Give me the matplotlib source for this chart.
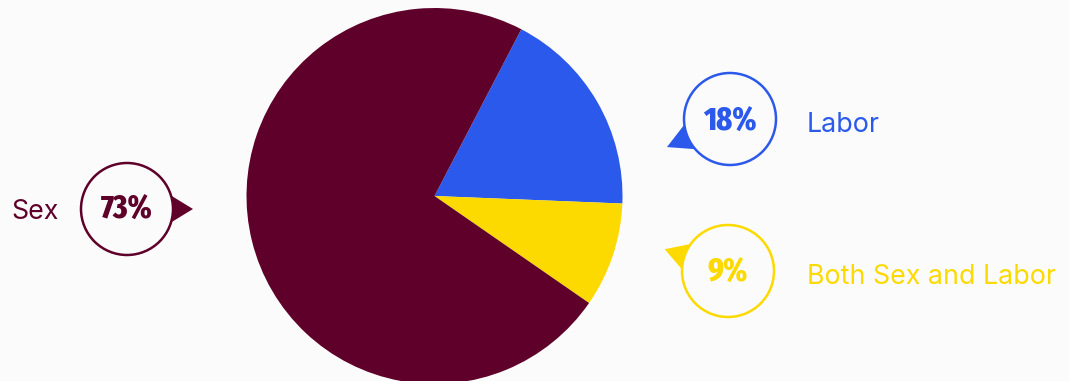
import numpy as np
import matplotlib.pyplot as plt
from matplotlib.patches import Circle, Polygon

labels = ['Labor', 'Both Sex and Labor', 'Sex']
shares = [18, 9, 73]
pct_labels = ['18%', '9%', '73%']
colors = ['#2b59eb', '#fcda00', '#5e0029']

W, H = 1069, 381
BG = '#fcfbfb'
PCT_FONT = ['Fira Sans Extra Condensed', 'DejaVu Sans']
LABEL_FONT = ['Inter', 'DejaVu Sans']


def bubble(ax, cx, cy, r, tip_angle, tip_dist, color, text, text_y, label, label_x, label_y):
    # speech-bubble style callout: triangle under a circle
    d = np.radians(17)
    a = np.radians(tip_angle)
    tri = [(cx + r * np.cos(a - d), cy + r * np.sin(a - d)),
           (cx + tip_dist * np.cos(a), cy + tip_dist * np.sin(a)),
           (cx + r * np.cos(a + d), cy + r * np.sin(a + d))]
    ax.add_patch(Polygon(tri, closed=True, facecolor=color, edgecolor='none', zorder=3))
    ax.add_patch(Circle((cx, cy), r, facecolor=BG, edgecolor=color, linewidth=1.8, zorder=4))
    ax.text(cx, text_y, text, ha='center', va='center', color=color, fontsize=23.5,
            fontweight=800, fontstyle='normal', family=PCT_FONT, zorder=5)
    ax.text(label_x, label_y, label, ha='left', va='center', color=color, fontsize=19.3,
            family=LABEL_FONT, zorder=5)


fig = plt.figure(figsize=(W / 100, H / 100), dpi=100, facecolor=BG)
ax = fig.add_axes([0, 0, 1, 1])
ax.set_facecolor(BG)

ax.pie(shares, colors=colors, startangle=62.5, counterclock=False,
       center=(434.5, H - 196), radius=188, wedgeprops=dict(linewidth=0))

bubble(ax, 127, H - 209, 46, 0, 66, colors[2], pct_labels[2], H - 210,
       labels[2], 11, H - 212)
bubble(ax, 730, H - 119, 46, 204, 69, colors[0], pct_labels[0], H - 122,
       labels[0], 807, H - 124.5)
bubble(ax, 728, H - 271, 46, 161, 67, colors[1], pct_labels[1], H - 273,
       labels[1], 807, H - 276.5)

ax.set_xlim(0, W)
ax.set_ylim(0, H)
ax.set_aspect('equal')
ax.axis('off')

fig.savefig('out.png', dpi=100, facecolor=BG)
